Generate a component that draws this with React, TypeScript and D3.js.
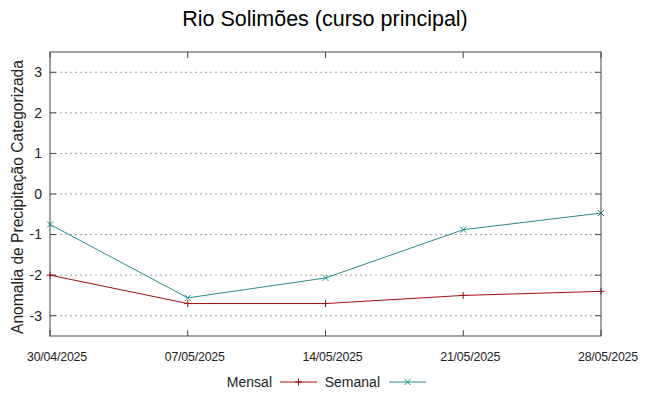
import React from "react";
import * as d3 from "d3";

const dates = ["30/04/2025", "07/05/2025", "14/05/2025", "21/05/2025", "28/05/2025"];
const mensal = [-2.0, -2.7, -2.7, -2.5, -2.4];
const semanal = [-0.75, -2.56, -2.07, -0.88, -0.47];
const yTicks = [-3, -2, -1, 0, 1, 2, 3];

const W = 649;
const H = 396;
const margin = { top: 52, right: 48, bottom: 60, left: 50 };

export default function App() {
  const x = d3
    .scalePoint<string>()
    .domain(dates)
    .range([margin.left, W - margin.right]);
  const y = d3
    .scaleLinear()
    .domain([-3.5, 3.5])
    .range([H - margin.bottom, margin.top]);

  const line = d3
    .line<number>()
    .x((d, i) => x(dates[i]) as number)
    .y((d) => y(d));

  const font = "'Liberation Sans', Arial, sans-serif";
  const red = "#a01010";
  const teal = "#2a8a8a";
  const left = margin.left;
  const right = W - margin.right;
  const top = margin.top;
  const bottom = H - margin.bottom;

  const plus = (cx: number, cy: number, c: string, k: string) => (
    <g key={k} stroke={c} strokeWidth={1}>
      <line x1={cx - 3.5} x2={cx + 3.5} y1={cy} y2={cy} />
      <line x1={cx} x2={cx} y1={cy - 3.5} y2={cy + 3.5} />
    </g>
  );
  const cross = (cx: number, cy: number, c: string, k: string) => (
    <g key={k} stroke={c} strokeWidth={1}>
      <line x1={cx - 3} x2={cx + 3} y1={cy - 3} y2={cy + 3} />
      <line x1={cx - 3} x2={cx + 3} y1={cy + 3} y2={cy - 3} />
    </g>
  );

  return (
    <svg
      width={W}
      height={H}
      style={{ position: "absolute", left: 0, top: 0, background: "#fff" }}
      fontFamily={font}
    >
      <rect width={W} height={H} fill="#fff" />
      <text x={325} y={26} textAnchor="middle" fontSize={21.5} fill="#000">
        Rio Solimões (curso principal)
      </text>

      {/* grid */}
      {yTicks.map((t) => (
        <line
          key={"g" + t}
          x1={left}
          x2={right}
          y1={y(t)}
          y2={y(t)}
          stroke="#a0a0a0"
          strokeWidth={1}
          strokeDasharray="2,3"
        />
      ))}

      {/* y ticks */}
      {yTicks.map((t) => (
        <g key={"t" + t}>
          <line x1={left} x2={left + 6} y1={y(t)} y2={y(t)} stroke="#444" />
          <line x1={right - 6} x2={right} y1={y(t)} y2={y(t)} stroke="#444" />
          <text
            x={left - 8}
            y={y(t)}
            dy="0.35em"
            textAnchor="end"
            fontSize={14}
            fill="#222"
          >
            {t}
          </text>
        </g>
      ))}

      {/* x ticks */}
      {dates.map((d) => (
        <g key={"x" + d}>
          <line x1={x(d)} x2={x(d)} y1={bottom} y2={bottom - 6} stroke="#444" />
          <line x1={x(d)} x2={x(d)} y1={top} y2={top + 6} stroke="#444" />
          <text
            x={(x(d) as number) + 7}
            y={bottom + 25}
            textAnchor="middle"
            fontSize={12.4}
            fill="#222"
            style={{ letterSpacing: "-0.2px" }}
          >
            {d}
          </text>
        </g>
      ))}

      <text
        transform={`translate(23,197) rotate(-90)`}
        textAnchor="middle"
        fontSize={15.6}
        fill="#222"
      >
        Anomalia de Precipitação Categorizada
      </text>

      {/* series */}
      <path d={line(mensal) || ""} fill="none" stroke={red} strokeWidth={1} />
      <path d={line(semanal) || ""} fill="none" stroke={teal} strokeWidth={1} />
      {mensal.map((v, i) => plus(x(dates[i]) as number, y(v), red, "m" + i))}
      {semanal.map((v, i) => cross(x(dates[i]) as number, y(v), teal, "s" + i))}

      <rect
        x={left}
        y={top}
        width={right - left}
        height={bottom - top}
        fill="none"
        stroke="#444"
        strokeWidth={1}
      />

      {/* legend */}
      <text x={272} y={387} textAnchor="end" fontSize={14} fill="#222">
        Mensal
      </text>
      <line x1={280} x2={317} y1={382} y2={382} stroke={red} />
      {plus(298.5, 382, red, "lm")}
      <text x={380} y={387} textAnchor="end" fontSize={14} fill="#222">
        Semanal
      </text>
      <line x1={389} x2={426} y1={382} y2={382} stroke={teal} />
      {cross(407.5, 382, teal, "ls")}
    </svg>
  );
}
